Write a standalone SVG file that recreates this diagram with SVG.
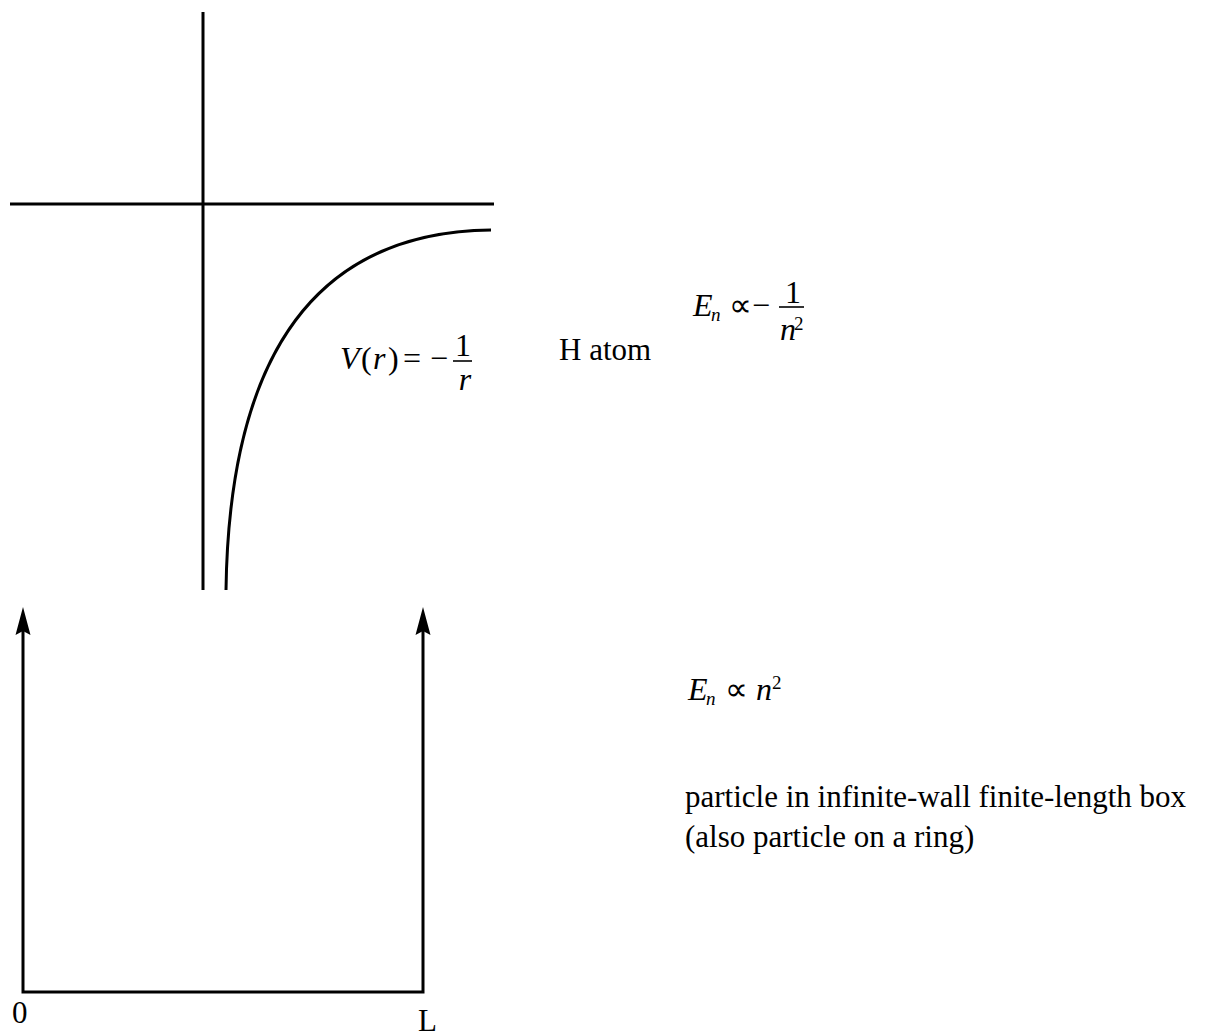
<svg xmlns="http://www.w3.org/2000/svg" width="1209" height="1032" viewBox="0 0 1209 1032">
<style>
.ln{stroke:#000;stroke-width:3;fill:none}
.bar{stroke:#000;stroke-width:1.6}
.t{font-family:"Liberation Serif","Times New Roman",serif;font-size:31px;fill:#000}
.m{font-family:"Liberation Serif","Times New Roman",serif;font-size:32px;fill:#000}
.i{font-style:italic}
.sub{font-size:19px}
</style>
<defs>
<path id="arrowhead" d="M0,0 L7.5,28 L0,24 L-7.5,28 Z" fill="#000"/>
</defs>
<rect width="1209" height="1032" fill="#fff"/>
<g id="connectors">
<line class="ln" x1="203" y1="12" x2="203" y2="590"/>
<line class="ln" x1="10" y1="204" x2="494" y2="204"/>
<path class="ln" d="M226,590 C229,370 305,232 491,230"/>
<path class="ln" d="M23,620 L23,992 L423,992 L423,620"/>
<use href="#arrowhead" x="23" y="607"/>
<use href="#arrowhead" x="423" y="607"/>
</g>
<g id="potential-label">
<text class="m i" x="340" y="369">V</text>
<text class="m" x="361" y="369">(</text>
<text class="m i" x="373" y="369">r</text>
<text class="m" x="388" y="369">)</text>
<text class="m" x="403" y="369">=</text>
<text class="m" x="430" y="369">−</text>
<line class="bar" x1="453" y1="361" x2="472" y2="361"/>
<text class="m" x="463" y="356" text-anchor="middle">1</text>
<text class="m i" x="465" y="390" text-anchor="middle">r</text>
</g>
<g id="h-atom">
<text class="t" x="559" y="360">H atom</text>
</g>
<g id="hatom-energy">
<text class="m i" x="693" y="316">E</text>
<text class="m i sub" x="711" y="321">n</text>
<text class="m" x="729" y="316">∝</text>
<text class="m" x="752" y="316">−</text>
<line class="bar" x1="779" y1="307" x2="804" y2="307"/>
<text class="m" x="793" y="303" text-anchor="middle">1</text>
<text class="m i" x="780" y="340">n</text>
<text class="m sub" x="794" y="330">2</text>
</g>
<g id="box-energy">
<text class="m i" x="688" y="700">E</text>
<text class="m i sub" x="706" y="705">n</text>
<text class="m" x="725" y="700">∝</text>
<text class="m i" x="756" y="700">n</text>
<text class="m sub" x="772" y="689">2</text>
</g>
<g id="box-caption">
<text class="t" x="685" y="807">particle in infinite-wall finite-length box</text>
<text class="t" x="685" y="847">(also particle on a ring)</text>
</g>
<g id="axis-labels">
<text class="t" x="12" y="1023">0</text>
<text class="t" x="418" y="1031">L</text>
</g>
</svg>
